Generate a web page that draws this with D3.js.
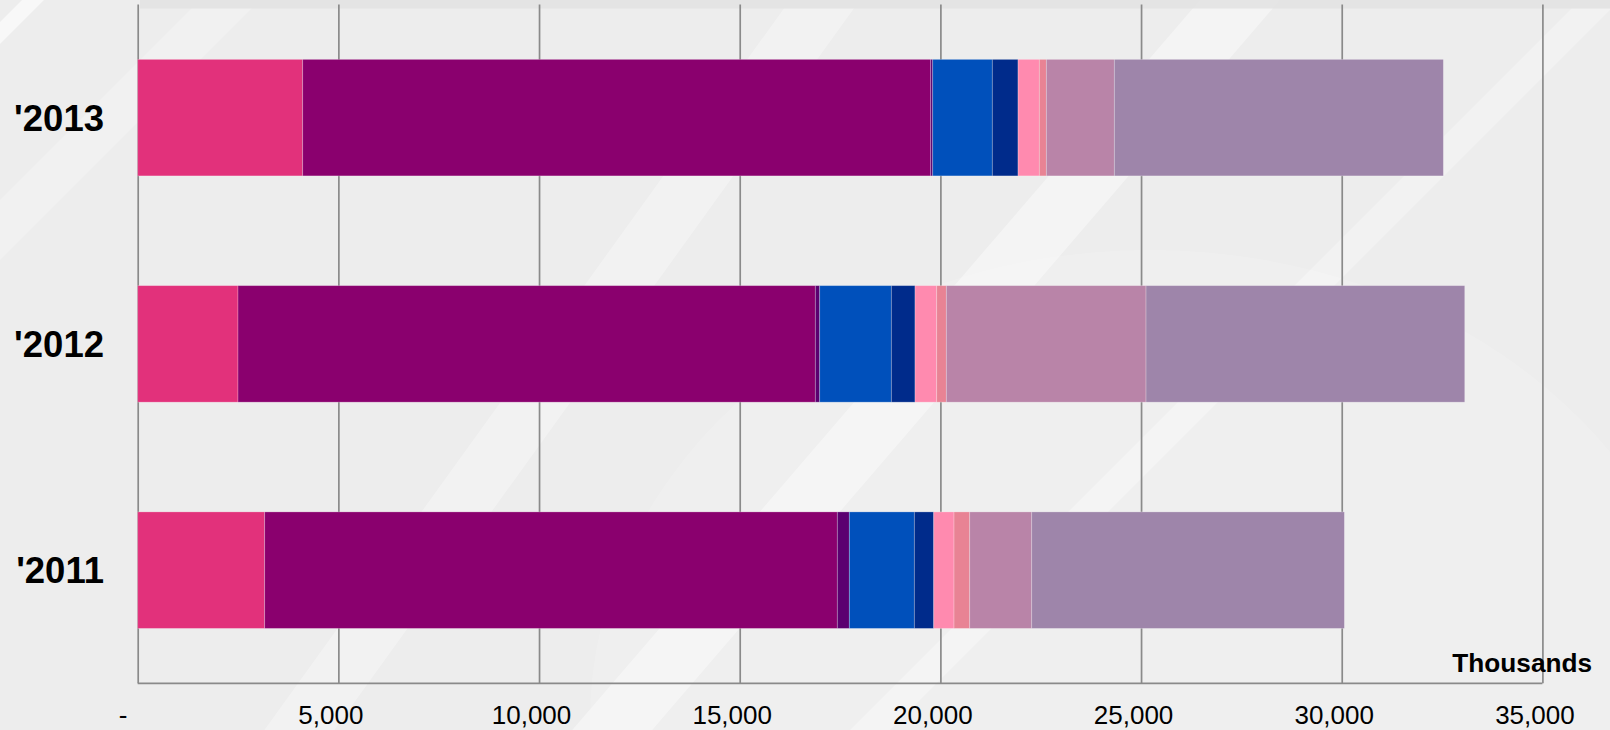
<!DOCTYPE html>
<html>
<head>
<meta charset="utf-8">
<script src="https://cdn.jsdelivr.net/npm/d3@7"></script>
<style>
  html, body { margin: 0; padding: 0; background: #ededed; }
  svg { display: block; }
  text { font-family: "Liberation Sans", Arial, sans-serif; }
</style>
</head>
<body>
<div id="chart"></div>
<script>
// categories (top to bottom) and series values, in thousands
const categories = ["'2013", "'2012", "'2011"];
const seriesNames = ["Series 1", "Series 2", "Series 3", "Series 4", "Series 5",
                     "Series 6", "Series 7", "Series 8", "Series 9"];
const series1 = [4111, 2499, 3164];
const series2 = [15648, 14385, 14268];
const series3 = [50, 109, 299];
const series4 = [1485, 1785, 1620];
const series5 = [641, 590, 483];
const series6 = [530, 541, 506];
const series7 = [175, 239, 391];
const series8 = [1694, 4976, 1545];
const series9 = [8198, 7941, 7790];
const tickValues = [0, 5000, 10000, 15000, 20000, 25000, 30000, 35000];

const colors = ["#e2317b", "#8a006e", "#5b0070", "#0050bb", "#002b8b",
                "#ff8aaf", "#e88394", "#b984a8", "#9e85aa"];

const W = 1610, H = 730;
const plotLeft = 137.7, plotRight = 1542.4, plotTop = 4.5, plotBottom = 683.3;

const svg = d3.select("#chart").append("svg")
  .attr("width", W)
  .attr("height", H);

// background with soft diagonal streaks
svg.append("rect").attr("width", W).attr("height", H).attr("fill", "#ededed");
svg.append("ellipse")
  .attr("cx", 1150).attr("cy", 720).attr("rx", 560).attr("ry", 470)
  .attr("fill", "#ffffff").attr("opacity", 0.15);
const streaks = svg.append("g").attr("fill", "#ffffff");
function streak(c, k, w, op) {
  // band whose left edge crosses y=0 at x=c and leans k px left per px down
  streaks.append("polygon")
    .attr("points", [[c - k * H, H], [c - k * H + w, H], [c + w, 0], [c, 0]].join(" "))
    .attr("opacity", op);
}
streak(22, 1, 22, 0.6);
streak(200, 1, 60, 0.25);
streak(790, 0.72, 70, 0.3);
streak(1200, 0.86, 80, 0.4);
streak(1580, 1, 40, 0.3);
svg.append("rect")
  .attr("x", 140).attr("y", 0).attr("width", W - 140).attr("height", 8.5)
  .attr("fill", "#e2e2e2").attr("opacity", 0.85);

const x = d3.scaleLinear().domain([0, 35000]).range([plotLeft, plotRight]);
const y = d3.scaleBand().domain(categories).range([plotTop, plotBottom])
  .paddingInner(0.485).paddingOuter(0.2425);

// gridlines
const grid = svg.append("g")
  .attr("transform", "translate(0," + plotBottom + ")")
  .call(d3.axisBottom(x).tickValues(tickValues).tickSize(-(plotBottom - plotTop)).tickFormat(""));
grid.select(".domain").remove();
grid.selectAll("line").attr("stroke", "#8a8a8a").attr("stroke-width", 1.7);

// stacked bars
const rows = categories.map((c, i) => {
  const r = { cat: c };
  [series1, series2, series3, series4, series5, series6, series7, series8, series9]
    .forEach((s, j) => { r[seriesNames[j]] = s[i]; });
  return r;
});
const stacked = d3.stack().keys(seriesNames)(rows);

svg.append("g").selectAll("g")
  .data(stacked).enter()
  .append("g")
  .attr("fill", (d, i) => colors[i])
  .selectAll("rect")
  .data(d => d).enter()
  .append("rect")
  .attr("x", d => x(d[0]))
  .attr("y", d => y(d.data.cat))
  .attr("width", d => x(d[1]) - x(d[0]))
  .attr("height", y.bandwidth())
  .attr("stroke", "rgba(255,255,255,0.3)")
  .attr("stroke-width", 0.8);

// bottom axis line
svg.append("line")
  .attr("x1", plotLeft).attr("x2", plotRight)
  .attr("y1", plotBottom).attr("y2", plotBottom)
  .attr("stroke", "#8a8a8a").attr("stroke-width", 1.7);

// tick labels (accounting style: zero shown as "-")
svg.append("g").selectAll("text")
  .data(tickValues).enter()
  .append("text")
  .attr("x", d => x(d) + (d === 0 ? -14.7 : -7.5))
  .attr("y", 724.3)
  .attr("text-anchor", "middle")
  .attr("font-size", 26)
  .attr("fill", "#000")
  .text(d => d === 0 ? "-" : d3.format(",")(d));

// category labels
svg.append("g").selectAll("text")
  .data(categories).enter()
  .append("text")
  .attr("x", 104)
  .attr("y", d => y(d) + y.bandwidth() / 2 + 13)
  .attr("text-anchor", "end")
  .attr("font-size", 36.5)
  .attr("font-weight", "bold")
  .attr("fill", "#000")
  .text(d => d);

// display unit label
svg.append("text")
  .attr("x", 1592)
  .attr("y", 671.7)
  .attr("text-anchor", "end")
  .attr("font-size", 26.2)
  .attr("font-weight", "bold")
  .attr("fill", "#000")
  .text("Thousands");
</script>
</body>
</html>
